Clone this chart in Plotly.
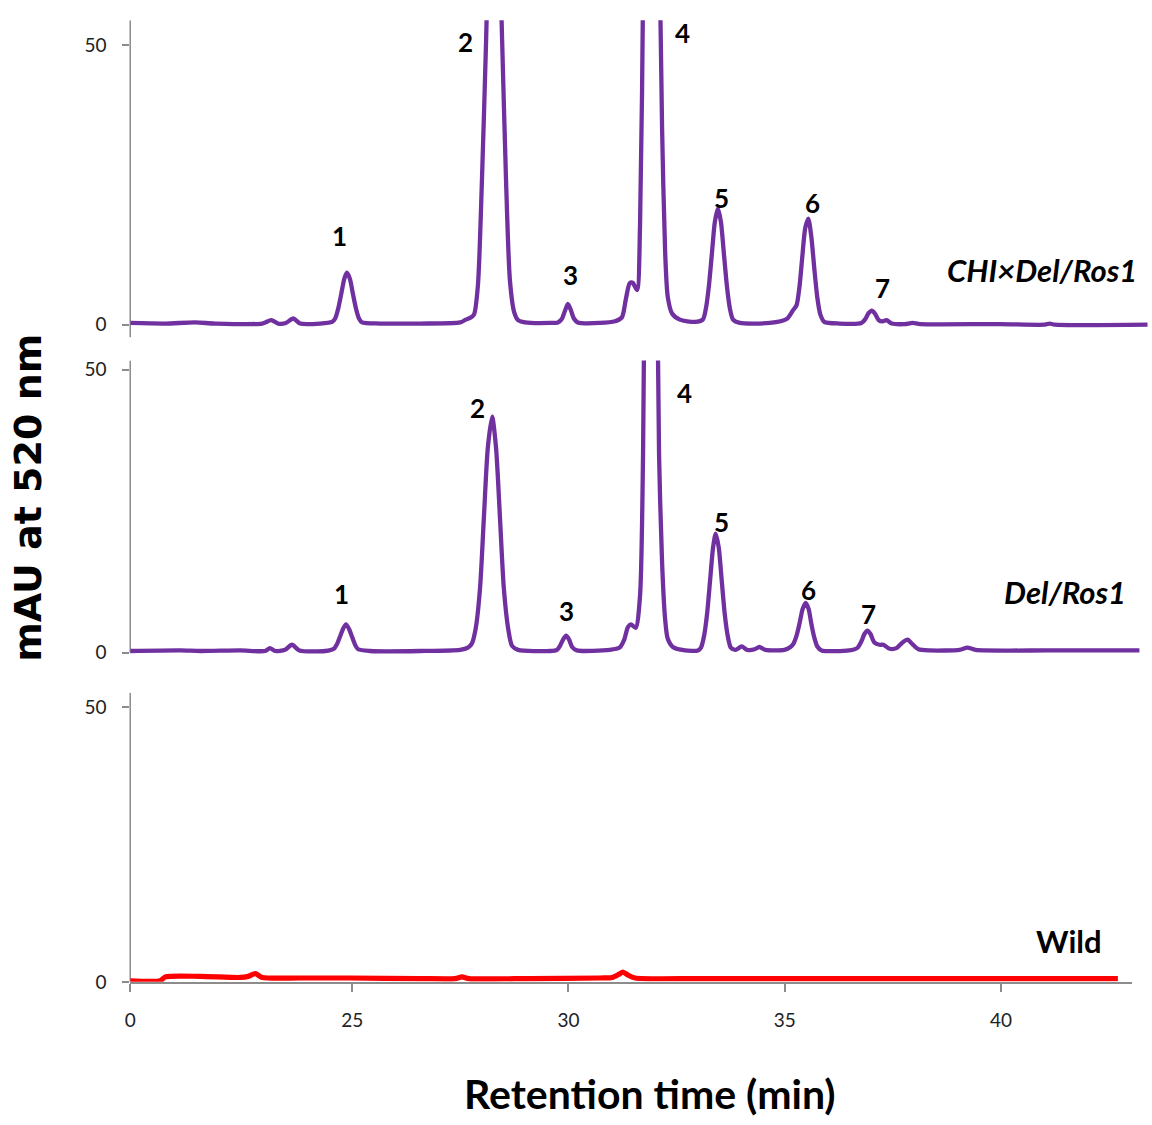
import plotly.graph_objects as go

# ---------------- data (retention time in min, absorbance in mAU) ----------------
top_t = [19.87, 20.68, 21.37, 21.83, 22.92, 23.13, 23.29, 23.47, 23.64, 23.80, 24.26, 24.54,
         24.61, 24.68, 24.75, 24.82, 24.88, 24.95, 25.02, 25.09, 25.16, 25.23, 25.65, 26.57,
         27.50, 27.63, 27.73, 27.82, 27.91, 28.00, 28.10, 28.19, 28.28, 28.37, 28.47, 28.56,
         28.65, 28.75, 28.84, 29.00, 29.58, 29.76, 29.85, 29.92, 29.99, 30.06, 30.13, 30.22,
         30.73, 31.08, 31.24, 31.33, 31.42, 31.49, 31.59, 31.66, 31.73, 31.80, 31.91, 32.03,
         32.10, 32.17, 32.24, 32.30, 32.40, 32.58, 32.93, 33.11, 33.18, 33.25, 33.32, 33.39,
         33.46, 33.53, 33.60, 33.67, 33.74, 33.81, 33.97, 34.66, 35.05, 35.19, 35.28, 35.35,
         35.41, 35.48, 35.55, 35.62, 35.69, 35.76, 35.83, 35.92, 36.27, 36.78, 36.87, 36.94,
         37.02, 37.09, 37.18, 37.27, 37.36, 37.48, 37.78, 37.96, 38.14, 39.98, 41.02, 41.13,
         41.25, 43.40]
top_mau = [0.3, 0.2, 0.4, 0.2, 0.2, 0.8, 0.2, 0.3, 1.1, 0.2, 0.2, 0.5,
           1.1, 2.9, 5.5, 8.2, 9.3, 8.2, 5.5, 2.9, 1.1, 0.4, 0.2, 0.2,
           0.4, 0.9, 1.2, 1.8, 7.0, 25.0, 51.0, 78.0, 90.0, 78.0, 51.0, 26.0,
           8.0, 2.2, 0.8, 0.4, 0.3, 0.4, 1.0, 2.4, 3.7, 2.6, 1.1, 0.4,
           0.3, 0.6, 1.3, 4.5, 7.4, 7.5, 6.2, 18.0, 60.0, 150.0, 250.0, 150.0,
           75.0, 35.0, 13.0, 5.0, 2.0, 0.9, 0.5, 0.9, 2.8, 6.8, 12.6, 18.4,
           20.8, 18.4, 12.6, 6.8, 2.8, 0.9, 0.3, 0.3, 1.0, 2.5, 3.5, 7.0,
           12.0, 17.3, 19.0, 15.8, 10.0, 4.8, 1.8, 0.5, 0.2, 0.3, 1.0, 2.0,
           2.5, 2.0, 0.8, 0.6, 0.8, 0.2, 0.1, 0.3, 0.1, 0.1, 0.0, 0.2,
           0.0, 0.0]

mid_t = [19.87, 21.03, 21.49, 22.41, 22.99, 23.10, 23.22, 23.45, 23.61, 23.78, 24.38, 24.58,
         24.65, 24.72, 24.79, 24.86, 24.93, 25.00, 25.07, 25.14, 25.42, 26.57, 27.50, 27.68,
         27.77, 27.86, 27.96, 28.05, 28.14, 28.24, 28.33, 28.42, 28.51, 28.61, 28.70, 28.84,
         29.58, 29.74, 29.81, 29.88, 29.95, 30.02, 30.09, 30.20, 30.96, 31.19, 31.29, 31.38,
         31.45, 31.56, 31.66, 31.73, 31.80, 31.91, 32.03, 32.10, 32.17, 32.24, 32.30, 32.42,
         32.70, 33.00, 33.07, 33.14, 33.21, 33.28, 33.35, 33.41, 33.48, 33.55, 33.62, 33.69,
         33.76, 33.87, 34.01, 34.14, 34.31, 34.42, 34.56, 35.00, 35.14, 35.21, 35.28, 35.35,
         35.42, 35.49, 35.56, 35.62, 35.69, 35.76, 35.86, 36.50, 36.68, 36.78, 36.85, 36.92,
         36.99, 37.08, 37.20, 37.29, 37.43, 37.59, 37.73, 37.85, 37.96, 38.10, 38.36, 39.05,
         39.23, 39.42, 41.13, 43.21]
mid_mau = [0.3, 0.4, 0.3, 0.4, 0.3, 0.8, 0.3, 0.5, 1.4, 0.4, 0.3, 0.7,
           1.5, 2.8, 4.2, 5.0, 4.2, 2.8, 1.4, 0.6, 0.3, 0.3, 0.5, 0.9,
           1.6, 4.3, 11.4, 24.0, 36.2, 41.7, 36.2, 24.0, 11.4, 4.3, 1.2, 0.5,
           0.3, 0.5, 1.2, 2.3, 3.0, 2.3, 1.0, 0.4, 0.5, 0.9, 2.2, 4.5,
           5.0, 4.4, 10.0, 35.0, 100.0, 180.0, 90.0, 35.0, 16.0, 6.0, 2.5, 1.0,
           0.4, 0.4, 0.9, 2.9, 6.8, 12.7, 18.6, 21.0, 18.6, 12.7, 6.8, 2.9,
           0.9, 0.5, 1.1, 0.5, 0.6, 1.0, 0.5, 0.5, 1.0, 1.6, 3.0, 5.2,
           7.7, 8.8, 7.7, 5.2, 2.7, 1.1, 0.4, 0.4, 0.8, 2.0, 3.3, 3.9,
           3.3, 1.8, 1.4, 1.4, 0.7, 0.8, 1.8, 2.3, 1.5, 0.6, 0.4, 0.5,
           0.9, 0.5, 0.4, 0.4]

wild_t = [19.87, 20.56, 20.68, 21.49, 22.41, 22.60, 22.76, 22.92, 23.80, 24.95, 26.57, 27.38,
          27.54, 27.70, 29.11, 30.73, 31.01, 31.17, 31.26, 31.38, 31.54, 33.04, 35.35, 37.66,
          39.98, 42.70]
wild_mau = [0.2, 0.2, 0.9, 1.0, 0.8, 1.0, 1.5, 0.8, 0.7, 0.7, 0.6, 0.6,
            0.9, 0.6, 0.6, 0.7, 0.8, 1.4, 1.8, 1.2, 0.7, 0.6, 0.6, 0.6,
            0.6, 0.6]

x_tickvals = [19.87, 25, 30, 35, 40]
x_ticktext = ["0", "25", "30", "35", "40"]
y_tickvals = [0, 50]

peak_numbers = ["1", "2", "3", "4", "5", "6", "7"]
top_label_t = [24.72, 27.63, 30.04, 32.65, 33.55, 35.65, 37.27]
top_label_y = [15.8, 50.7, 8.8, 52.3, 22.6, 21.7, 6.6]
mid_label_t = [24.75, 27.89, 29.97, 32.70, 33.55, 35.56, 36.95]
mid_label_y = [10.4, 43.3, 7.4, 45.8, 23.1, 11.1, 6.9]

sample_names = ["CHI×Del/Ros1", "Del/Ros1", "Wild"]
sample_name_t = [40.95, 41.48, 41.57]
sample_name_y = [9.7, 10.8, 7.5]

# ---------------- figure ----------------
W, H = 1152, 1125
PURPLE = "#7030A0"
RED = "#FF0000"
AX = "#8c8c8c"

# page-pixel helpers (with a small calibration for how the page is photographed)
SX, OX = 0.9953, 5.7
SY, OY = 0.987, 2.7

def px_x(p):
    return ((p - OX) / SX) / W

def px_y(p):
    return 1 - ((p - OY) / SY) / H

fig = go.Figure()
fig.add_trace(go.Scatter(x=top_t, y=top_mau, mode="lines", xaxis="x", yaxis="y",
                         line=dict(color=PURPLE, width=4.3, shape="spline", smoothing=0.7)))
fig.add_trace(go.Scatter(x=mid_t, y=mid_mau, mode="lines", xaxis="x2", yaxis="y2",
                         line=dict(color=PURPLE, width=4.3, shape="spline", smoothing=0.7)))
fig.add_trace(go.Scatter(x=wild_t, y=wild_mau, mode="lines", xaxis="x3", yaxis="y3",
                         line=dict(color=RED, width=5.2, shape="spline", smoothing=0.7)))

tickfont = dict(family="Lato", size=19, color="#222")

def hidden_x(dom_end, rng_end, anchor):
    return dict(domain=[px_x(130), px_x(dom_end)], range=[19.87, rng_end], anchor=anchor,
                showgrid=False, zeroline=False, showline=False, showticklabels=False,
                ticks="", fixedrange=True)

def yax(top_px, bot_px, rng, anchor):
    return dict(domain=[px_y(bot_px), px_y(top_px)], range=rng, anchor=anchor,
                showgrid=False, zeroline=False, showline=False,
                tickvals=y_tickvals, ticks="outside", ticklen=7, tickwidth=1.5,
                tickcolor=AX, tickfont=tickfont, ticklabelstandoff=12, fixedrange=True)

layout = dict(
    width=W, height=H, margin=dict(l=0, r=0, t=0, b=0),
    paper_bgcolor="white", plot_bgcolor="rgba(0,0,0,0)", showlegend=False,
    xaxis=hidden_x(1148, 43.40, "y"),
    yaxis=yax(20, 337, [-2.3, 54.5], "x"),
    xaxis2=hidden_x(1141, 43.24, "y2"),
    yaxis2=yax(360, 657, [-0.88, 51.6], "x2"),
    xaxis3=dict(domain=[px_x(130), px_x(1132)], range=[19.87, 43.02], anchor="y3",
                showgrid=False, zeroline=False, showline=True, linecolor=AX, linewidth=1.5,
                layer="below traces",
                tickvals=x_tickvals, ticktext=x_ticktext, ticks="outside", ticklen=8,
                tickwidth=1.5, tickcolor=AX, tickfont=tickfont, ticklabelstandoff=13,
                fixedrange=True),
    yaxis3=yax(692, 981, [0, 52.7], "x3"),
)
fig.update_layout(**layout)

shapes = [
    dict(type="line", xref="x domain", yref="y", x0=0, x1=0, y0=-2.3, y1=54.5,
         line=dict(color=AX, width=1.5), layer="below"),
    dict(type="line", xref="x2 domain", yref="y2", x0=0, x1=0, y0=0, y1=51.6,
         line=dict(color=AX, width=1.5), layer="below"),
    dict(type="line", xref="x3 domain", yref="y3", x0=0, x1=0, y0=0, y1=52.7,
         line=dict(color=AX, width=1.5), layer="below"),
]
fig.update_layout(shapes=shapes)

ann = []
numfont = dict(family="Lato", size=26, color="black")
for n, t, v in zip(peak_numbers, top_label_t, top_label_y):
    ann.append(dict(x=t, y=v, xref="x", yref="y", text=f"<b>{n}</b>", showarrow=False,
                    font=numfont))
for n, t, v in zip(peak_numbers, mid_label_t, mid_label_y):
    ann.append(dict(x=t, y=v, xref="x2", yref="y2", text=f"<b>{n}</b>", showarrow=False,
                    font=numfont))

namefont = dict(family="Lato", size=31, color="black")
refs = [("x", "y"), ("x2", "y2"), ("x3", "y3")]
for i, (name, t, v) in enumerate(zip(sample_names, sample_name_t, sample_name_y)):
    txt = f"<b>{name}</b>" if name == "Wild" else f"<b><i>{name}</i></b>"
    ann.append(dict(x=t, y=v, xref=refs[i][0], yref=refs[i][1], text=txt,
                    showarrow=False, font=namefont))

ann.append(dict(x=px_x(27), y=px_y(497), xref="paper", yref="paper",
                xanchor="center", yanchor="middle",
                text="<b>mAU at 520 nm</b>", textangle=-90, showarrow=False,
                font=dict(family="DejaVu Sans", size=38, color="black")))
ann.append(dict(x=px_x(650), y=px_y(1093), xref="paper", yref="paper",
                xanchor="center", yanchor="middle",
                text="<b>Retention time (min)</b>", showarrow=False,
                font=dict(family="Lato", size=41, color="black")))
fig.update_layout(annotations=ann)

reset_js = (
    "var de=document.documentElement, b=document.body;"
    "de.style.margin='0'; de.style.padding='0'; de.style.overflow='hidden';"
    "b.style.margin='0'; b.style.padding='0'; b.style.overflow='hidden';"
)
fig.write_html("out.html", config={"displayModeBar": False}, post_script=reset_js)
